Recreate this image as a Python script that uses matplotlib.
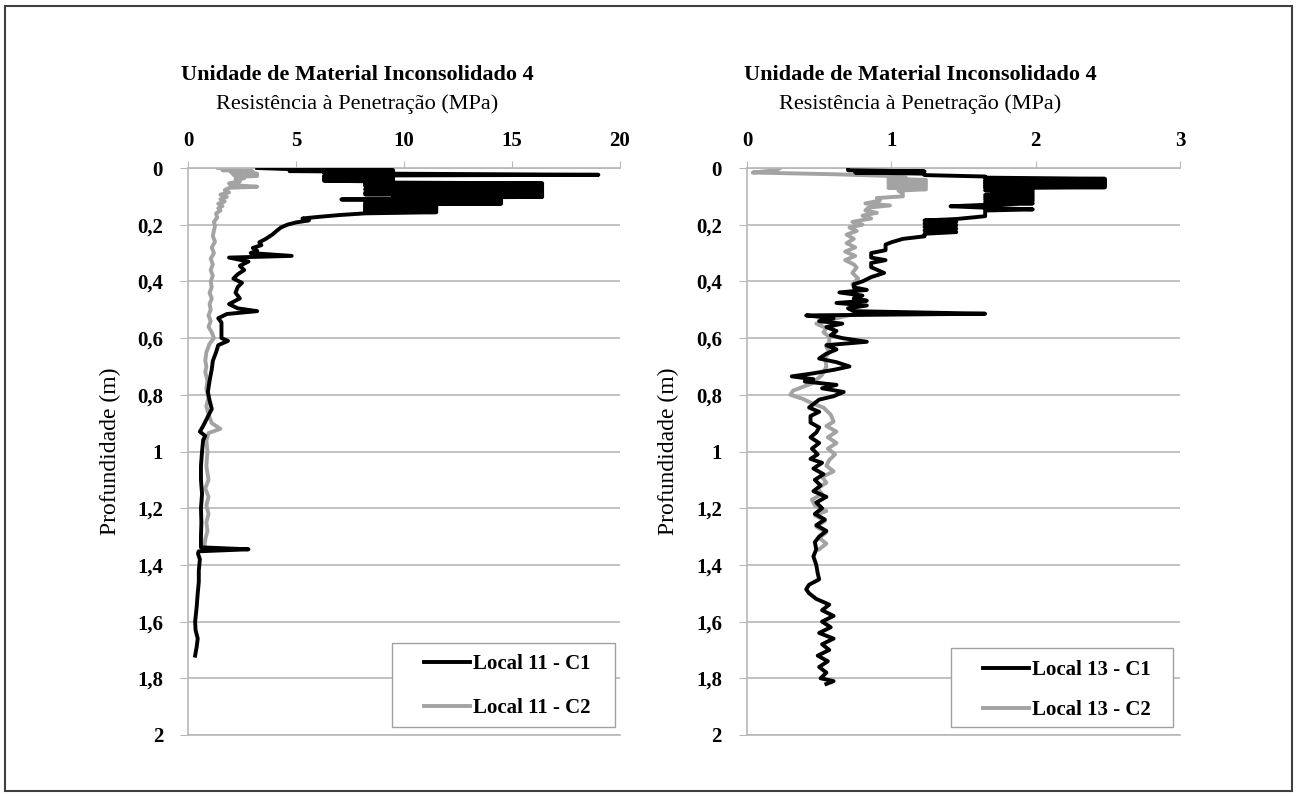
"""Penetration resistance profiles, Unidade de Material Inconsolidado 4."""

import matplotlib
matplotlib.use("Agg")
import matplotlib.pyplot as plt
from matplotlib.patches import Rectangle
from matplotlib.ticker import FuncFormatter

# Local 11 - C1: (depth m, resistance MPa)
l11_c1_depth = [
    0.000, 0.004, 0.008, 0.011, 0.014, 0.017, 0.020, 0.024, 0.027, 0.030,
    0.033, 0.036, 0.039, 0.042, 0.045, 0.048, 0.051, 0.054, 0.057, 0.060,
    0.063, 0.066, 0.069, 0.072, 0.075, 0.078, 0.081, 0.084, 0.087, 0.090,
    0.093, 0.096, 0.099, 0.102, 0.105, 0.108, 0.111, 0.114, 0.117, 0.120,
    0.123, 0.126, 0.129, 0.132, 0.135, 0.138, 0.141, 0.144, 0.147, 0.150,
    0.153, 0.156, 0.160, 0.166, 0.172, 0.178, 0.185, 0.192, 0.200, 0.210,
    0.222, 0.235, 0.250, 0.262, 0.272, 0.282, 0.292, 0.300, 0.310, 0.316,
    0.330, 0.345, 0.360, 0.375, 0.390, 0.405, 0.420, 0.440, 0.460, 0.480,
    0.495, 0.505, 0.515, 0.530, 0.545, 0.580, 0.600, 0.610, 0.625, 0.650,
    0.680, 0.710, 0.750, 0.790, 0.820, 0.850, 0.880, 0.910, 0.930, 0.945,
    0.960, 1.000, 1.050, 1.100, 1.150, 1.200, 1.250, 1.300, 1.338, 1.345,
    1.352, 1.360, 1.380, 1.420, 1.460, 1.500, 1.550, 1.600, 1.630, 1.660,
    1.690, 1.720,
]
l11_c1_mpa = [
    3.2, 4.7, 9.5, 4.7, 9.5, 6.3, 9.5, 19.0, 6.3, 9.5,
    6.3, 9.5, 6.3, 9.5, 6.3, 9.5, 8.2, 16.4, 8.2, 16.4,
    8.2, 16.4, 10.8, 16.4, 8.2, 16.4, 10.8, 16.4, 8.2, 16.4,
    8.2, 16.4, 9.5, 16.4, 9.5, 14.5, 7.1, 14.5, 9.5, 14.5,
    8.2, 14.5, 8.2, 11.5, 8.2, 11.5, 8.2, 11.5, 8.2, 11.5,
    8.2, 11.5, 8.2, 7.0, 6.1, 5.3, 5.6, 5.0, 4.6, 4.3,
    4.1, 3.9, 3.6, 3.3, 3.4, 3.0, 3.2, 2.9, 4.8, 1.9,
    2.8, 2.4, 2.6, 2.3, 2.1, 2.5, 2.3, 2.2, 2.4, 1.9,
    2.3, 3.2, 1.8, 1.4, 1.55, 1.55, 1.55, 1.85, 1.4, 1.3,
    1.15, 1.1, 1.0, 0.92, 1.0, 1.1, 0.9, 0.7, 0.55, 0.8,
    0.7, 0.65, 0.6, 0.6, 0.65, 0.6, 0.62, 0.6, 0.6, 2.8,
    0.5, 0.46, 0.55, 0.5, 0.5, 0.45, 0.4, 0.33, 0.35, 0.45,
    0.4, 0.33,
]

# Local 11 - C2
l11_c2_depth = [
    0.000, 0.004, 0.008, 0.012, 0.016, 0.020, 0.024, 0.028, 0.032, 0.036,
    0.042, 0.048, 0.054, 0.060, 0.066, 0.070, 0.078, 0.086, 0.094, 0.102,
    0.110, 0.118, 0.126, 0.134, 0.142, 0.150, 0.160, 0.175, 0.190, 0.205,
    0.220, 0.240, 0.260, 0.280, 0.300, 0.320, 0.340, 0.360, 0.380, 0.400,
    0.420, 0.440, 0.460, 0.480, 0.500, 0.520, 0.540, 0.560, 0.580, 0.600,
    0.620, 0.650, 0.680, 0.700, 0.720, 0.750, 0.780, 0.810, 0.840, 0.870,
    0.900, 0.920, 0.935, 0.960, 1.000, 1.050, 1.100, 1.130, 1.160, 1.190,
    1.220, 1.250, 1.280, 1.310, 1.340,
]
l11_c2_mpa = [
    1.4, 2.4, 1.6, 3.0, 2.0, 3.2, 2.1, 3.2, 2.2, 2.6,
    2.2, 2.4, 1.9, 2.0, 3.2, 1.9, 1.7, 1.9, 1.5, 1.8,
    1.5, 1.7, 1.4, 1.6, 1.4, 1.5, 1.3, 1.35, 1.2, 1.25,
    1.2, 1.15, 1.25, 1.1, 1.2, 1.05, 1.15, 1.05, 1.15, 1.05,
    1.1, 1.0, 1.1, 1.0, 1.05, 0.95, 1.05, 0.95, 1.1, 1.2,
    1.0, 0.85, 0.8, 0.85, 0.8, 0.9, 0.85, 0.95, 0.85, 0.95,
    1.1, 1.5, 0.95, 0.85, 0.9, 0.85, 0.95, 0.8, 0.95, 0.85,
    0.95, 0.85, 0.9, 0.8, 0.75,
]

# Local 13 - C1
l13_c1_depth = [
    0.000, 0.008, 0.012, 0.016, 0.020, 0.025, 0.030, 0.034, 0.038, 0.041,
    0.044, 0.047, 0.050, 0.053, 0.056, 0.059, 0.062, 0.065, 0.068, 0.071,
    0.075, 0.079, 0.083, 0.087, 0.091, 0.095, 0.099, 0.103, 0.107, 0.111,
    0.115, 0.120, 0.125, 0.130, 0.135, 0.140, 0.146, 0.150, 0.160, 0.170,
    0.180, 0.185, 0.190, 0.196, 0.202, 0.208, 0.214, 0.220, 0.226, 0.232,
    0.241, 0.250, 0.262, 0.270, 0.290, 0.300, 0.316, 0.325, 0.335, 0.350,
    0.370, 0.385, 0.400, 0.410, 0.421, 0.430, 0.439, 0.450, 0.460, 0.468,
    0.476, 0.485, 0.495, 0.505, 0.514, 0.520, 0.530, 0.540, 0.549, 0.561,
    0.575, 0.590, 0.600, 0.613, 0.625, 0.640, 0.655, 0.672, 0.685, 0.700,
    0.712, 0.725, 0.735, 0.745, 0.753, 0.765, 0.777, 0.790, 0.805, 0.817,
    0.829, 0.845, 0.860, 0.875, 0.898, 0.915, 0.933, 0.950, 0.970, 0.990,
    1.010, 1.026, 1.040, 1.060, 1.080, 1.100, 1.120, 1.140, 1.160, 1.180,
    1.200, 1.220, 1.240, 1.260, 1.280, 1.300, 1.320, 1.345, 1.370, 1.400,
    1.430, 1.451, 1.470, 1.486, 1.500, 1.520, 1.540, 1.560, 1.580, 1.600,
    1.620, 1.640, 1.660, 1.680, 1.700, 1.720, 1.740, 1.760, 1.780, 1.800,
    1.810, 1.820,
]
l13_c1_mpa = [
    0.70, 0.70, 1.23, 0.75, 1.23, 1.23, 1.65, 1.65, 2.48, 1.65,
    2.48, 1.65, 2.48, 1.65, 2.48, 1.65, 2.48, 1.65, 2.48, 1.65,
    1.98, 1.65, 1.98, 1.70, 1.98, 1.65, 1.98, 1.65, 1.98, 1.65,
    1.98, 1.65, 1.98, 1.65, 1.41, 1.65, 1.98, 1.65, 1.65, 1.65,
    1.45, 1.23, 1.45, 1.23, 1.45, 1.23, 1.45, 1.23, 1.45, 1.23,
    1.23, 1.08, 1.00, 0.96, 0.96, 0.86, 0.86, 0.96, 0.86, 0.86,
    0.95, 0.86, 0.80, 0.74, 0.74, 0.83, 0.64, 0.80, 0.74, 0.83,
    0.62, 0.83, 0.70, 0.74, 1.65, 0.41, 0.60, 0.50, 0.66, 0.55,
    0.62, 0.58, 0.66, 0.83, 0.55, 0.62, 0.55, 0.50, 0.62, 0.71,
    0.60, 0.45, 0.31, 0.46, 0.40, 0.62, 0.52, 0.67, 0.60, 0.50,
    0.47, 0.43, 0.50, 0.44, 0.44, 0.50, 0.48, 0.44, 0.50, 0.45,
    0.49, 0.44, 0.52, 0.46, 0.53, 0.47, 0.51, 0.46, 0.55, 0.48,
    0.52, 0.47, 0.54, 0.48, 0.55, 0.50, 0.47, 0.48, 0.46, 0.48,
    0.49, 0.50, 0.43, 0.41, 0.43, 0.48, 0.57, 0.52, 0.60, 0.52,
    0.58, 0.50, 0.60, 0.52, 0.57, 0.49, 0.56, 0.50, 0.55, 0.51,
    0.60, 0.55,
]

# Local 13 - C2
l13_c2_depth = [
    0.000, 0.008, 0.016, 0.022, 0.028, 0.034, 0.038, 0.042, 0.046, 0.050,
    0.054, 0.058, 0.062, 0.066, 0.070, 0.075, 0.080, 0.090, 0.100, 0.106,
    0.115, 0.125, 0.132, 0.140, 0.150, 0.158, 0.168, 0.178, 0.190, 0.200,
    0.210, 0.222, 0.235, 0.250, 0.265, 0.280, 0.295, 0.310, 0.325, 0.340,
    0.351, 0.370, 0.390, 0.410, 0.430, 0.450, 0.470, 0.490, 0.514, 0.530,
    0.549, 0.565, 0.580, 0.595, 0.612, 0.630, 0.650, 0.670, 0.700, 0.730,
    0.760, 0.785, 0.800, 0.815, 0.830, 0.845, 0.870, 0.895, 0.910, 0.930,
    0.950, 0.970, 0.990, 1.010, 1.030, 1.050, 1.070, 1.090, 1.110, 1.130,
    1.150, 1.170, 1.190, 1.210, 1.225, 1.245, 1.265, 1.285, 1.305, 1.325,
    1.345,
]
l13_c2_mpa = [
    0.23, 0.20, 0.04, 0.60, 0.98, 1.10, 0.98, 1.24, 0.98, 1.24,
    0.98, 1.24, 0.98, 1.24, 0.98, 1.24, 1.05, 1.08, 1.08, 0.90,
    0.92, 0.82, 0.99, 0.84, 0.82, 0.90, 0.80, 0.86, 0.73, 0.80,
    0.71, 0.76, 0.69, 0.74, 0.69, 0.75, 0.68, 0.75, 0.68, 0.74,
    0.76, 0.73, 0.77, 0.73, 0.76, 0.74, 0.77, 0.73, 0.75, 0.62,
    0.48, 0.55, 0.53, 0.57, 0.57, 0.55, 0.57, 0.54, 0.55, 0.52,
    0.45, 0.32, 0.30, 0.39, 0.45, 0.53, 0.58, 0.60, 0.55, 0.62,
    0.56, 0.62, 0.56, 0.61, 0.57, 0.55, 0.60, 0.52, 0.55, 0.49,
    0.52, 0.45, 0.47, 0.55, 0.47, 0.54, 0.48, 0.55, 0.50, 0.55,
    0.50,
]

title = "Unidade de Material Inconsolidado 4"
xlabel = "Resistência à Penetração (MPa)"
ylabel = "Profundidade (m)"

FONT = "Liberation Serif"
plt.rcParams["font.family"] = [FONT, "DejaVu Serif"]

BLACK = "#000000"
GRAY = "#a3a3a3"
GRID = "#b8b8b8"
LW = 2.8

W, H = 1297, 796
fig = plt.figure(figsize=(W / 100, H / 100), dpi=100)
fig.patches.append(Rectangle((5 / W, 5 / H), 1 - 10 / W, 1 - 11 / H,
                             transform=fig.transFigure, fill=False,
                             edgecolor="#404040", lw=1.5))


def comma(v, _pos):
    return f"{v:g}".replace(".", ",")


def panel(rect, c1, c2, labels, xmax, xstep, title_x, ylabel_x,
          box, leg_xy, spacing):
    ax = fig.add_axes(rect)
    ax.plot(c1[1], c1[0], color=BLACK, lw=LW, label=labels[0], zorder=3)
    ax.plot(c2[1], c2[0], color=GRAY, lw=LW, label=labels[1], zorder=2)
    ax.set_xlim(0, xmax)
    ax.set_ylim(2, 0)
    ax.set_xticks([i * xstep for i in range(int(round(xmax / xstep)) + 1)])
    ax.set_yticks([i * 0.2 for i in range(11)])
    ax.yaxis.set_major_formatter(FuncFormatter(comma))
    ax.xaxis.tick_top()
    ax.tick_params(axis="x", direction="out", length=5, color=GRID, pad=7,
                   labelsize=15)
    ax.tick_params(axis="y", direction="out", length=6, color=GRID, pad=12,
                   labelsize=15)
    for lab in ax.get_xticklabels() + ax.get_yticklabels():
        lab.set_fontweight("bold")
    ax.grid(axis="y", color=GRID, lw=1.2)
    ax.set_axisbelow(True)
    for side in ("left", "top", "bottom"):
        ax.spines[side].set_color(GRID)
        ax.spines[side].set_linewidth(1.2)
    ax.spines["right"].set_visible(False)

    # legend frame drawn separately (Excel style box with wide left margin)
    ax.add_patch(Rectangle((box[0], box[1]), box[2] - box[0], box[3] - box[1],
                           transform=ax.transAxes, facecolor="white",
                           edgecolor="#a0a0a0", lw=1.0, zorder=4))
    leg = ax.legend(loc="center", bbox_to_anchor=leg_xy, frameon=False,
                    handlelength=2.2, handletextpad=0.15, borderpad=0.0,
                    labelspacing=spacing, borderaxespad=0.0,
                    prop={"family": FONT, "weight": "bold", "size": 15})
    leg.set_zorder(5)
    for line in leg.get_lines():
        line.set_linewidth(LW)

    fig.text(title_x, 1 - 75 / H, title, ha="center", va="center",
             fontsize=16, fontweight="bold")
    fig.text(title_x, 1 - 104 / H, xlabel, ha="center", va="center",
             fontsize=16)
    fig.text(ylabel_x, rect[1] + rect[3] / 2, ylabel, ha="center",
             va="center", rotation=90, fontsize=17)
    return ax


bottom = 1 - 735 / H
height = (735 - 168) / H
panel([188 / W, bottom, 432 / W, height],
      (l11_c1_depth, l11_c1_mpa), (l11_c2_depth, l11_c2_mpa),
      ("Local 11 - C1", "Local 11 - C2"), 20, 5, 357 / W, 110 / W,
      (0.472, 0.014, 0.988, 0.162), (0.74, 0.086), 1.15)
panel([747 / W, bottom, 433 / W, height],
      (l13_c1_depth, l13_c1_mpa), (l13_c2_depth, l13_c2_mpa),
      ("Local 13 - C1", "Local 13 - C2"), 3, 1, 920 / W, 668 / W,
      (0.471, 0.014, 0.984, 0.153), (0.738, 0.079), 0.95)

fig.savefig("out.png", dpi=100)
